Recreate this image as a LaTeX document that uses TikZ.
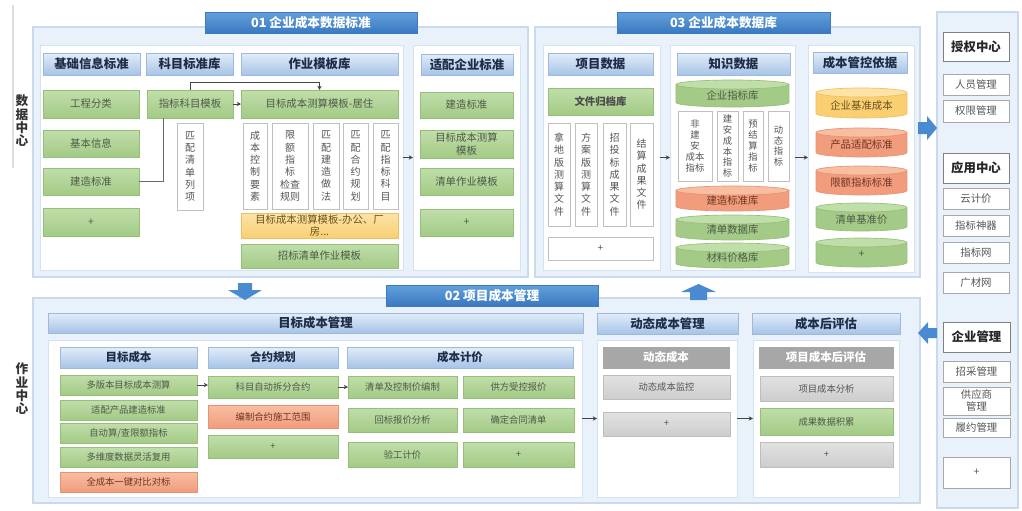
\documentclass[tikz,border=0pt]{standalone}
\usepackage{fontspec}
\setmainfont{Noto Sans CJK SC}
\usetikzlibrary{arrows.meta}
\definecolor{tabT}{HTML}{62A0DC}
\definecolor{tabB}{HTML}{3B79C0}
\definecolor{hdT}{HTML}{E2EDF8}
\definecolor{hdB}{HTML}{A6C3E7}
\definecolor{hdD}{HTML}{9DB9DD}
\definecolor{hdTxt}{HTML}{1E2C48}
\definecolor{gT}{HTML}{C0DEAA}
\definecolor{gB}{HTML}{A3CA86}
\definecolor{gD}{HTML}{96BF78}
\definecolor{gTxt}{HTML}{4E5A48}
\definecolor{oT}{HTML}{F8BEA2}
\definecolor{oB}{HTML}{F19C7C}
\definecolor{oD}{HTML}{E99273}
\definecolor{oTxt}{HTML}{6E3522}
\definecolor{yT}{HTML}{FDE3A6}
\definecolor{yB}{HTML}{F9CF72}
\definecolor{yD}{HTML}{F0C060}
\definecolor{yTxt}{HTML}{6A5320}
\definecolor{grH}{HTML}{A7A7A7}
\definecolor{grT}{HTML}{E2E2E2}
\definecolor{grB}{HTML}{CDCDCD}
\definecolor{grD}{HTML}{BDBDBD}
\definecolor{txtG}{HTML}{555555}
\definecolor{vbD}{HTML}{C0C0C0}
\definecolor{sectF}{HTML}{E9F1FA}
\definecolor{sectD}{HTML}{C9DAEF}
\definecolor{panD}{HTML}{D5E2F1}
\definecolor{connC}{HTML}{444444}
\definecolor{blkC}{HTML}{4A8AD0}
\definecolor{sbD}{HTML}{A8A8A8}
\definecolor{sbDD}{HTML}{808080}
\newcommand\myfs[2]{\fontsize{#1}{#2}\selectfont}
\newcommand\bx[7]{\node[#1, minimum width={(#5-#3)*0.75pt}, minimum height={(#6-#4)*0.75pt}] (#2) at ({(#3+#5)/2},{(#4+#6)/2}) {#7};}
\newcommand\cyl[7]{%
  \pgfmathsetmacro\cylcx{(#3+#5)/2}%
  \pgfmathsetmacro\cylrx{(#5-#3)/2}%
  \pgfmathsetmacro\cylyt{#4+4.5}%
  \pgfmathsetmacro\cylyb{#6-4.5}%
  \fill[#1B] (\cylcx,\cylyb) ellipse [x radius=\cylrx, y radius=4.5];
  \fill[#1B] (#3,\cylyt) rectangle (#5,\cylyb);
  \draw[#1D, line width=0.5pt] (#3,\cylyt) -- (#3,\cylyb) arc[start angle=180, end angle=0, x radius=\cylrx, y radius=4.5] -- (#5,\cylyt);
  \filldraw[fill=#1T, draw=#1D, line width=0.5pt] (\cylcx,\cylyt) ellipse [x radius=\cylrx, y radius=4.5];
  \node[font=\myfs{7.8}{9}, text=#1Txt] (#2) at (\cylcx,{(\cylyt+#6)/2}) {#7};%
}
\tikzset{
  every node/.style={inner sep=0pt, outer sep=0pt, align=center},
  sect/.style={fill=sectF, draw=sectD, line width=0.8pt},
  panel/.style={fill=white, draw=panD, line width=0.6pt},
  tab/.style={top color=tabT, bottom color=tabB, draw=tabB, text=white, font=\myfs{9.5}{11}\bfseries},
  hdr/.style={top color=hdT, bottom color=hdB, draw=hdD, line width=0.4pt, text=hdTxt, font=\myfs{9.3}{11}\bfseries},
  hdrs/.style={hdr, font=\myfs{8.6}{10}\bfseries},
  gbox/.style={top color=gT, bottom color=gB, draw=gD, line width=0.4pt, text=gTxt, font=\myfs{7.8}{9.5}},
  gboxs/.style={gbox, font=\myfs{7}{8.5}},
  ybox/.style={top color=yT, bottom color=yB, draw=yD, line width=0.4pt, text=yTxt, font=\myfs{7.8}{9.5}},
  oboxs/.style={top color=oT, bottom color=oB, draw=oD, line width=0.4pt, text=oTxt, font=\myfs{7}{8.5}},
  greyh/.style={fill=grH, draw=grH, text=white, font=\myfs{8.6}{10}\bfseries},
  greyb/.style={top color=grT, bottom color=grB, draw=grD, line width=0.4pt, text=txtG, font=\myfs{7}{8.5}},
  vbox/.style={fill=white, draw=vbD, line width=0.5pt, text=txtG, font=\myfs{7.5}{9.2}},
  vboxs/.style={vbox, font=\myfs{7}{8.2}},
  side/.style={fill=sectF, draw=sectD, line width=0.8pt},
  sbx/.style={fill=white, draw=sbD, line width=0.5pt, text=txtG, font=\myfs{7.8}{9}},
  sbb/.style={fill=white, draw=sbDD, line width=0.6pt, text=black!85, font=\myfs{9.3}{11}\bfseries},
  conn/.style={draw=connC, line width=0.6pt, -{Stealth[length=3.2pt,width=3.2pt]}},
  plain/.style={draw=connC!80, line width=0.6pt},
  blk/.style={fill=blkC, draw=none},
  gcylB/.style={fill=gB}, gcylT/.style={fill=gT}, gcylD/.style={draw=gD},
  lbl/.style={text=black!80, font=\myfs{9.5}{10}\bfseries}
}
\colorlet{gcylB}{gB}\colorlet{gcylT}{gT}\colorlet{gcylD}{gD}\colorlet{gcylTxt}{gTxt}
\colorlet{ocylB}{oB}\colorlet{ocylT}{oT}\colorlet{ocylD}{oD}\colorlet{ocylTxt}{oTxt}
\colorlet{ycylB}{yB}\colorlet{ycylT}{yT}\colorlet{ycylD}{yD}\colorlet{ycylTxt}{yTxt}
\begin{document}
\begin{tikzpicture}[x=0.75pt,y=-0.75pt]
\useasboundingbox (0,0) rectangle (1022,511);
\fill[white] (0,0) rectangle (1022,511);
\draw[black!12, line width=1.2pt] (13,5) -- (13,168);
% left labels
\node[lbl] (dc) at (22,121) {数\\据\\中\\心};
\node[lbl] (zc) at (22,389) {作\\业\\中\\心};
% ================= Section 01
\bx{sect}{s01}{33}{27}{528}{277}{}
\bx{tab}{t01}{205}{12}{417}{33}{01 企业成本数据标准}
\bx{panel}{p01a}{40}{45}{403}{270}{}
\bx{panel}{p01b}{413}{45}{520}{270}{}
\bx{hdr}{h11}{43}{53}{140}{75}{基础信息标准}
\bx{hdr}{h12}{146}{53}{233}{75}{科目标准库}
\bx{hdr}{h13}{241}{53}{398}{75}{作业模板库}
\bx{hdr}{h14}{421}{54}{513}{75}{适配企业标准}
\bx{gbox}{a1}{43}{90}{139}{118}{工程分类}
\bx{gbox}{a2}{43}{130}{139}{157}{基本信息}
\bx{gbox}{a3}{43}{168}{139}{195}{建造标准}
\bx{gbox}{a4}{43}{208}{139}{236}{+}
\bx{gbox}{b1}{147}{90}{233}{118}{指标科目模板}
\bx{vbox}{b2}{177}{123}{203}{210}{匹\\配\\清\\单\\列\\项}
\bx{gbox}{c1}{241}{90}{398}{118}{目标成本测算模板-居住}
\bx{vbox}{c2}{243}{123}{267}{209}{成\\本\\控\\制\\要\\素}
\bx{vbox}{c3}{272}{123}{308}{209}{限\\额\\指\\标\\检查\\规则}
\bx{vbox}{c4}{313}{123}{339}{209}{匹\\配\\建\\造\\做\\法}
\bx{vbox}{c5}{343}{123}{368}{209}{匹\\配\\合\\约\\规\\划}
\bx{vbox}{c6}{373}{123}{398}{209}{匹\\配\\指\\标\\科\\目}
\bx{ybox}{c7}{241}{213}{398}{238}{目标成本测算模板-办公、厂\\房...}
\bx{gbox}{c8}{241}{244}{398}{268}{招标清单作业模板}
\bx{gbox}{d1}{420}{92}{513}{118}{建造标准}
\bx{gbox}{d2}{420}{130}{513}{158}{目标成本测算\\模板}
\bx{gbox}{d3}{420}{168}{513}{195}{清单作业模板}
\bx{gbox}{d4}{420}{209}{513}{236}{+}
\draw[plain] (a3.east) -| ([xshift=-20.25pt]b1.south);
\draw[conn] (b1.north) -- ++(0,-8) -| (c1.north);
\draw[conn] (b1.east) -- (c1.west);
\draw[conn] (p01a.east) -- (p01b.west);
% ================= Section 03
\bx{sect}{s03}{535}{27}{920}{277}{}
\bx{tab}{t03}{617}{12}{830}{33}{03 企业成本数据库}
\bx{panel}{p31}{543}{45}{660}{270}{}
\bx{panel}{p32}{670}{45}{795}{270}{}
\bx{panel}{p33}{808}{45}{914}{272}{}
\bx{hdr}{h31}{548}{53}{653}{75}{项目数据}
\bx{hdr}{h32}{677}{53}{790}{75}{知识数据}
\bx{hdr}{h33}{813}{52}{907}{73}{成本管控依据}
\bx{gbox, font=\myfs{7.8}{9.5}\bfseries, text=black!70}{e1}{548}{88}{653}{115}{文件归档库}
\bx{vbox}{e2}{548}{123}{570}{226}{拿\\地\\版\\测\\算\\文\\件}
\bx{vbox}{e3}{575}{123}{597}{226}{方\\案\\版\\测\\算\\文\\件}
\bx{vbox}{e4}{603}{123}{626}{226}{招\\投\\标\\成\\果\\文\\件}
\bx{vbox}{e5}{630}{123}{653}{226}{结\\算\\成\\果\\文\\件}
\bx{vbox}{e6}{548}{237}{653}{260}{+}
\cyl{gcyl}{f1}{676}{80}{789}{107}{企业指标库}
\bx{vboxs}{f2}{678}{111}{712}{181}{非\\建\\安\\成本\\指标}
\bx{vboxs}{f3}{717}{111}{738}{181}{建\\安\\成\\本\\指\\标}
\bx{vboxs}{f4}{743}{111}{763}{181}{预\\结\\算\\指\\标}
\bx{vboxs}{f5}{768}{111}{789}{181}{动\\态\\指\\标}
\cyl{ocyl}{f6}{676}{186}{789}{211}{建造标准库}
\cyl{gcyl}{f7}{676}{215}{789}{240}{清单数据库}
\cyl{gcyl}{f8}{676}{243}{789}{268}{材料价格库}
\cyl{ycyl}{g1}{816}{88}{907}{118}{企业基准成本}
\cyl{ocyl}{g2}{816}{128}{907}{157}{产品适配标准}
\cyl{ocyl}{g3}{816}{166}{907}{195}{限额指标标准}
\cyl{gcyl}{g4}{816}{203}{907}{231}{清单基准价}
\cyl{gcyl}{g5}{816}{238}{907}{267}{+}
\draw[conn] (p31.east) -- (p32.west);
\draw[conn] (p32.east) -- (p32.east -| p33.west);
% ================= Sidebar
\bx{side}{sb}{937}{12}{1018}{508}{}
\bx{sbb}{n1}{943}{32}{1009}{61}{授权中心}
\bx{sbx}{n2}{943}{74}{1009}{95}{人员管理}
\bx{sbx}{n3}{943}{100}{1009}{122}{权限管理}
\bx{sbb}{n4}{943}{153}{1009}{183}{应用中心}
\bx{sbx}{n5}{943}{188}{1009}{209}{云计价}
\bx{sbx}{n6}{943}{215}{1009}{236}{指标神器}
\bx{sbx}{n7}{943}{242}{1009}{263}{指标网}
\bx{sbx}{n8}{943}{272}{1009}{293}{广材网}
\bx{sbb}{n9}{943}{322}{1010}{352}{企业管理}
\bx{sbx}{n10}{943}{361}{1010}{382}{招采管理}
\bx{sbx}{n11}{943}{387}{1010}{415}{供应商\\管理}
\bx{sbx}{n12}{943}{418}{1010}{437}{履约管理}
\bx{sbx}{n13}{943}{457}{1010}{488}{+}
% ================= Section 02
\bx{sect}{s02}{33}{298}{920}{503}{}
\bx{tab}{t02}{386}{285}{598}{306}{02 项目成本管理}
\bx{hdr}{h21}{48}{313}{583}{333}{目标成本管理}
\bx{hdr}{h22}{597}{313}{738}{334}{动态成本管理}
\bx{hdr}{h23}{752}{313}{900}{334}{成本后评估}
\bx{panel}{p21}{48}{340}{582}{497}{}
\bx{panel}{p22}{597}{340}{737}{497}{}
\bx{panel}{p23}{753}{340}{899}{497}{}
\bx{hdrs}{h211}{60}{347}{197}{368}{目标成本}
\bx{hdrs}{h212}{208}{347}{338}{368}{合约规划}
\bx{hdrs}{h213}{347}{347}{573}{368}{成本计价}
\bx{greyh}{h221}{603}{347}{729}{368}{动态成本}
\bx{greyh}{h231}{759}{347}{893}{368}{项目成本后评估}
\bx{gboxs}{i1}{60}{375}{197}{395}{多版本目标成本测算}
\bx{gboxs}{i2}{60}{400}{197}{420}{适配产品建造标准}
\bx{gboxs}{i3}{60}{423}{197}{443}{自动算/查限额指标}
\bx{gboxs}{i4}{60}{447}{197}{467}{多维度数据灵活复用}
\bx{oboxs}{i5}{60}{472}{197}{492}{全成本一键对比对标}
\bx{gboxs}{j1}{208}{376}{338}{398}{科目自动拆分合约}
\bx{oboxs}{j2}{208}{405}{338}{428}{编制合约施工范围}
\bx{gboxs}{j3}{208}{435}{338}{458}{+}
\bx{gboxs}{k1}{348}{376}{457}{398}{清单及控制价编制}
\bx{gboxs}{k2}{463}{376}{574}{398}{供方受控报价}
\bx{gboxs}{k3}{348}{408}{457}{432}{回标报价分析}
\bx{gboxs}{k4}{463}{408}{574}{432}{确定合同清单}
\bx{gboxs}{k5}{348}{442}{457}{467}{验工计价}
\bx{gboxs}{k6}{463}{442}{574}{467}{+}
\bx{greyb}{l1}{603}{375}{730}{399}{动态成本监控}
\bx{greyb}{l2}{603}{412}{730}{436}{+}
\bx{greyb}{m1}{760}{376}{893}{401}{项目成本分析}
\bx{gboxs}{m2}{760}{408}{893}{435}{成果数据积累}
\bx{greyb}{m3}{760}{442}{893}{467}{+}
\draw[conn] (i1.east) -- (i1.east -| j1.west);
\draw[conn] (j1.east) -- (j1.east -| k1.west);
\draw[conn] (p21.east) -- (p22.west);
\draw[conn] (p22.east) -- (p22.east -| p23.west);
% ================= block arrows
\fill[blk] (238,283) -- (252,283) -- (252,290) -- (262,290) -- (245,300) -- (228,290) -- (238,290) -- cycle;
\fill[blk] (690,300) -- (707,300) -- (707,292) -- (716,292) -- (698.5,284) -- (681,292) -- (690,292) -- cycle;
\fill[blk] (918,122) -- (927,122) -- (927,116) -- (937,128) -- (927,140) -- (927,134) -- (918,134) -- cycle;
\fill[blk] (937,328) -- (928,328) -- (928,322) -- (918,333) -- (928,344) -- (928,338) -- (937,338) -- cycle;
\end{tikzpicture}
\end{document}
